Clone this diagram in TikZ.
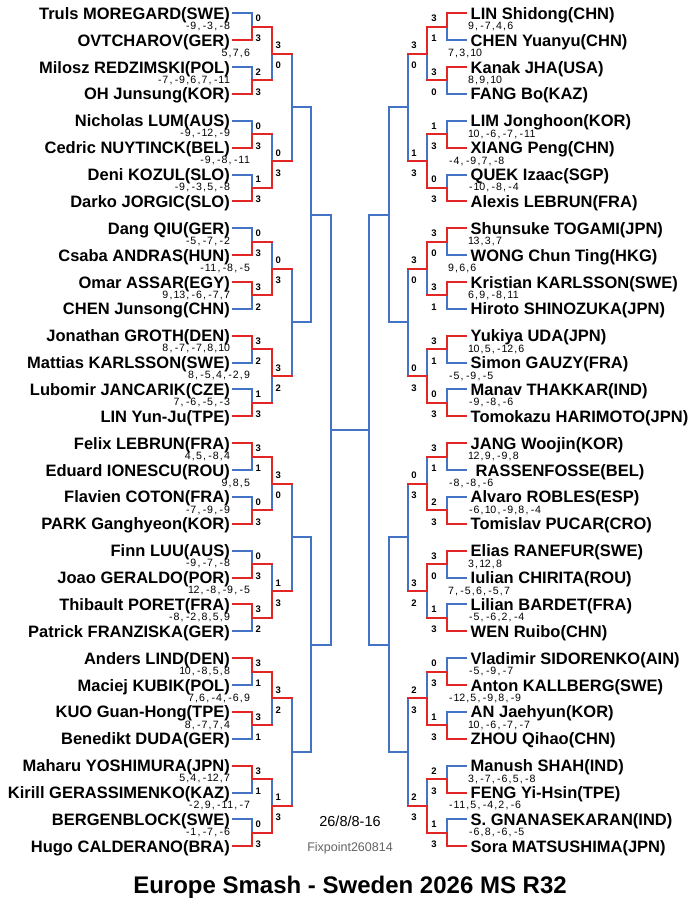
\documentclass[tikz,border=0pt]{standalone}
\usepackage{fontspec}
\setmainfont{Liberation Sans}
\pgfdeclarelayer{bglayer}
\pgfdeclarelayer{bluelayer}
\pgfsetlayers{bglayer,bluelayer,main}
\definecolor{bred}{RGB}{226,38,38}
\definecolor{bblue}{RGB}{68,114,196}
\definecolor{fixgrey}{RGB}{100,100,100}
\makeatletter
\def\gsc#1{\gs@loop#1\@nil}
\def\gs@loop#1{\ifx#1\@nil\else\makebox[5.6pt]{#1}\expandafter\gs@loop\fi}
\makeatother
\tikzset{
  nm/.style={font=\fontsize{16.5}{18}\selectfont\bfseries, inner sep=0pt},
  gs/.style={font=\fontsize{10.6}{12}\selectfont, inner sep=0pt},
  sc/.style={font=\fontsize{9.5}{11}\selectfont\bfseries, inner sep=0pt},
  bl/.style={draw=bblue, line width=2pt, line cap=rect, line join=miter},
  rd/.style={draw=bred, line width=2pt, line cap=rect, line join=miter}
}
% left first-round match: k, top score, bottom score, games
\newcommand\LA[4]{%
 \pgfmathsetmacro\ya{13.3+26.87*2*#1}%
 \pgfmathsetmacro\yb{\ya+26.87}%
 \pgfmathsetmacro\ym{\ya+13.435}%
 \ifnum#2>#3\relax
   \begin{pgfonlayer}{bluelayer}\draw[bl] (233,\yb) -- (252,\yb) -- (252,\ym);\end{pgfonlayer}
   \draw[rd] (233,\ya) -- (252,\ya) -- (252,\ym) -- (272,\ym);
 \else
   \begin{pgfonlayer}{bluelayer}\draw[bl] (233,\ya) -- (252,\ya) -- (252,\ym);\end{pgfonlayer}
   \draw[rd] (233,\yb) -- (252,\yb) -- (252,\ym) -- (272,\ym);
 \fi
 \node[sc,anchor=base west] (LAt#1) at (255.3,\ym-5) {#2};
 \node[sc,anchor=base west] (LAb#1) at (255.3,\ym+15) {#3};
 \node[gs,anchor=base east] (LAg#1) at (230,\ym+2.7) {\gsc{#4}};
}
% left second-round match
\newcommand\LB[4]{%
 \pgfmathsetmacro\ya{13.3+26.87*(4*#1+0.5)}%
 \pgfmathsetmacro\yb{\ya+2*26.87}%
 \pgfmathsetmacro\ym{\ya+26.87}%
 \ifnum#2>#3\relax
   \begin{pgfonlayer}{bluelayer}\draw[bl] (272,\yb) -- (272,\ym);\end{pgfonlayer}
   \draw[rd] (272,\ya) -- (272,\ym) -- (291.5,\ym);
 \else
   \begin{pgfonlayer}{bluelayer}\draw[bl] (272,\ya) -- (272,\ym);\end{pgfonlayer}
   \draw[rd] (272,\yb) -- (272,\ym) -- (291.5,\ym);
 \fi
 \node[sc,anchor=base west] (LBt#1) at (275.3,\ym-5) {#2};
 \node[sc,anchor=base west] (LBb#1) at (275.3,\ym+15) {#3};
 \node[gs,anchor=base east] (LBg#1) at (250,\ym+2.7) {\gsc{#4}};
}
% right first-round match
\newcommand\RA[4]{%
 \pgfmathsetmacro\ya{13.3+26.87*2*#1}%
 \pgfmathsetmacro\yb{\ya+26.87}%
 \pgfmathsetmacro\ym{\ya+13.435}%
 \ifnum#2>#3\relax
   \begin{pgfonlayer}{bluelayer}\draw[bl] (466,\yb) -- (447,\yb) -- (447,\ym);\end{pgfonlayer}
   \draw[rd] (466,\ya) -- (447,\ya) -- (447,\ym) -- (427,\ym);
 \else
   \begin{pgfonlayer}{bluelayer}\draw[bl] (466,\ya) -- (447,\ya) -- (447,\ym);\end{pgfonlayer}
   \draw[rd] (466,\yb) -- (447,\yb) -- (447,\ym) -- (427,\ym);
 \fi
 \node[sc,anchor=base east] (RAt#1) at (436.8,\ym-5) {#2};
 \node[sc,anchor=base east] (RAb#1) at (436.8,\ym+15) {#3};
 \node[gs,anchor=base west] (RAg#1) at (468,\ym+3) {\gsc{#4}};
}
% right second-round match
\newcommand\RB[4]{%
 \pgfmathsetmacro\ya{13.3+26.87*(4*#1+0.5)}%
 \pgfmathsetmacro\yb{\ya+2*26.87}%
 \pgfmathsetmacro\ym{\ya+26.87}%
 \ifnum#2>#3\relax
   \begin{pgfonlayer}{bluelayer}\draw[bl] (427,\yb) -- (427,\ym);\end{pgfonlayer}
   \draw[rd] (427,\ya) -- (427,\ym) -- (407.5,\ym);
 \else
   \begin{pgfonlayer}{bluelayer}\draw[bl] (427,\ya) -- (427,\ym);\end{pgfonlayer}
   \draw[rd] (427,\yb) -- (427,\ym) -- (407.5,\ym);
 \fi
 \node[sc,anchor=base east] (RBt#1) at (416.8,\ym-5) {#2};
 \node[sc,anchor=base east] (RBb#1) at (416.8,\ym+15) {#3};
 \node[gs,anchor=base west] (RBg#1) at (448,\ym+3) {\gsc{#4}};
}
\begin{document}
\begin{tikzpicture}[x=1pt,y=-1pt]
\useasboundingbox (0,0) rectangle (700,915);
\begin{pgfonlayer}{bglayer}
\fill[white] (0,0) rectangle (700,915);
\end{pgfonlayer}

% player names
\foreach \n [count=\i from 0] in {Truls MOREGARD(SWE),OVTCHAROV(GER),Milosz REDZIMSKI(POL),OH Junsung(KOR),Nicholas LUM(AUS),Cedric NUYTINCK(BEL),Deni KOZUL(SLO),Darko JORGIC(SLO),Dang QIU(GER),Csaba ANDRAS(HUN),Omar ASSAR(EGY),CHEN Junsong(CHN),Jonathan GROTH(DEN),Mattias KARLSSON(SWE),Lubomir JANCARIK(CZE),LIN Yun-Ju(TPE),Felix LEBRUN(FRA),Eduard IONESCU(ROU),Flavien COTON(FRA),PARK Ganghyeon(KOR),Finn LUU(AUS),Joao GERALDO(POR),Thibault PORET(FRA),Patrick FRANZISKA(GER),Anders LIND(DEN),Maciej KUBIK(POL),KUO Guan-Hong(TPE),Benedikt DUDA(GER),Maharu YOSHIMURA(JPN),Kirill GERASSIMENKO(KAZ),BERGENBLOCK(SWE),Hugo CALDERANO(BRA)}
  \node[nm,anchor=base east] (Ln\i) at (230,{13.3+26.87*\i+6}) {\n};
\foreach \n [count=\i from 0] in {LIN Shidong(CHN),CHEN Yuanyu(CHN),Kanak JHA(USA),FANG Bo(KAZ),LIM Jonghoon(KOR),XIANG Peng(CHN),QUEK Izaac(SGP),Alexis LEBRUN(FRA),Shunsuke TOGAMI(JPN),WONG Chun Ting(HKG),Kristian KARLSSON(SWE),Hiroto SHINOZUKA(JPN),Yukiya UDA(JPN),Simon GAUZY(FRA),Manav THAKKAR(IND),Tomokazu HARIMOTO(JPN),JANG Woojin(KOR),\hspace{5pt}RASSENFOSSE(BEL),Alvaro ROBLES(ESP),Tomislav PUCAR(CRO),Elias RANEFUR(SWE),Iulian CHIRITA(ROU),Lilian BARDET(FRA),WEN Ruibo(CHN),Vladimir SIDORENKO(AIN),Anton KALLBERG(SWE),AN Jaehyun(KOR),ZHOU Qihao(CHN),Manush SHAH(IND),FENG Yi-Hsin(TPE),S. GNANASEKARAN(IND),Sora MATSUSHIMA(JPN)}
  \node[nm,anchor=base west] (Rn\i) at (470.5,{13.3+26.87*\i+6}) {\n};

% unplayed rounds (blue)
\begin{pgfonlayer}{bluelayer}
\foreach \k in {0,...,3}{
  \draw[bl] (291.5,{13.3+26.87*(8*\k+1.5)}) -- (291.5,{13.3+26.87*(8*\k+5.5)});
  \draw[bl] (291.5,{13.3+26.87*(8*\k+3.5)}) -- (311,{13.3+26.87*(8*\k+3.5)});
  \draw[bl] (407.5,{13.3+26.87*(8*\k+1.5)}) -- (407.5,{13.3+26.87*(8*\k+5.5)});
  \draw[bl] (407.5,{13.3+26.87*(8*\k+3.5)}) -- (388.5,{13.3+26.87*(8*\k+3.5)});
}
\foreach \k in {0,1}{
  \draw[bl] (311,{13.3+26.87*(16*\k+3.5)}) -- (311,{13.3+26.87*(16*\k+11.5)});
  \draw[bl] (311,{13.3+26.87*(16*\k+7.5)}) -- (330.5,{13.3+26.87*(16*\k+7.5)});
  \draw[bl] (388.5,{13.3+26.87*(16*\k+3.5)}) -- (388.5,{13.3+26.87*(16*\k+11.5)});
  \draw[bl] (388.5,{13.3+26.87*(16*\k+7.5)}) -- (369,{13.3+26.87*(16*\k+7.5)});
}
\draw[bl] (330.5,{13.3+26.87*7.5}) -- (330.5,{13.3+26.87*23.5});
\draw[bl] (369,{13.3+26.87*7.5}) -- (369,{13.3+26.87*23.5});
\draw[bl] (330.5,{13.3+26.87*15.5}) -- (369,{13.3+26.87*15.5});
\end{pgfonlayer}

% left side matches
\LA{0}{0}{3}{-9,-3,-8}
\LA{1}{2}{3}{-7,-9,6,7,-11}
\LA{2}{0}{3}{-9,-12,-9}
\LA{3}{1}{3}{-9,-3,5,-8}
\LA{4}{0}{3}{-5,-7,-2}
\LA{5}{3}{2}{9,13,-6,-7,7}
\LA{6}{3}{2}{8,-7,-7,8,10}
\LA{7}{1}{3}{7,-6,-5,-3}
\LA{8}{3}{1}{4,5,-8,4}
\LA{9}{0}{3}{-7,-9,-9}
\LA{10}{0}{3}{-9,-7,-8}
\LA{11}{3}{2}{-8,-2,8,5,9}
\LA{12}{3}{1}{10,-8,5,8}
\LA{13}{3}{1}{8,-7,7,4}
\LA{14}{3}{1}{5,4,-12,7}
\LA{15}{0}{3}{-1,-7,-6}
\LB{0}{3}{0}{5,7,6}
\LB{1}{0}{3}{-9,-8,-11}
\LB{2}{0}{3}{-11,-8,-5}
\LB{3}{3}{2}{8,-5,4,-2,9}
\LB{4}{3}{0}{9,8,5}
\LB{5}{1}{3}{12,-8,-9,-5}
\LB{6}{3}{2}{7,6,-4,-6,9}
\LB{7}{1}{3}{-2,9,-11,-7}

% right side matches
\RA{0}{3}{1}{9,-7,4,6}
\RA{1}{3}{0}{8,9,10}
\RA{2}{1}{3}{10,-6,-7,-11}
\RA{3}{0}{3}{-10,-8,-4}
\RA{4}{3}{0}{13,3,7}
\RA{5}{3}{1}{6,9,-8,11}
\RA{6}{3}{1}{10,5,-12,6}
\RA{7}{0}{3}{-9,-8,-6}
\RA{8}{3}{1}{12,9,-9,8}
\RA{9}{2}{3}{-6,10,-9,8,-4}
\RA{10}{3}{0}{3,12,8}
\RA{11}{1}{3}{-5,-6,2,-4}
\RA{12}{0}{3}{-5,-9,-7}
\RA{13}{1}{3}{10,-6,-7,-7}
\RA{14}{2}{3}{3,-7,-6,5,-8}
\RA{15}{1}{3}{-6,8,-6,-5}
\RB{0}{3}{0}{7,3,10}
\RB{1}{1}{3}{-4,-9,7,-8}
\RB{2}{3}{0}{9,6,6}
\RB{3}{0}{3}{-5,-9,-5}
\RB{4}{0}{3}{-8,-8,-6}
\RB{5}{3}{2}{7,-5,6,-5,7}
\RB{6}{2}{3}{-12,5,-9,8,-9}
\RB{7}{2}{3}{-11,5,-4,2,-6}

% footer texts
\node[inner sep=0pt,anchor=base,font=\fontsize{14.5}{16}\selectfont] (date) at (350,826) {26/8/8-16};
\node[inner sep=0pt,anchor=base,text=fixgrey,font=\fontsize{12.5}{14}\selectfont] (fix) at (350,851.5) {Fixpoint260814};
\node[inner sep=0pt,anchor=base,font=\fontsize{24}{28}\selectfont\bfseries] (title) at (350,893) {Europe Smash - Sweden 2026 MS R32};
\end{tikzpicture}
\end{document}
